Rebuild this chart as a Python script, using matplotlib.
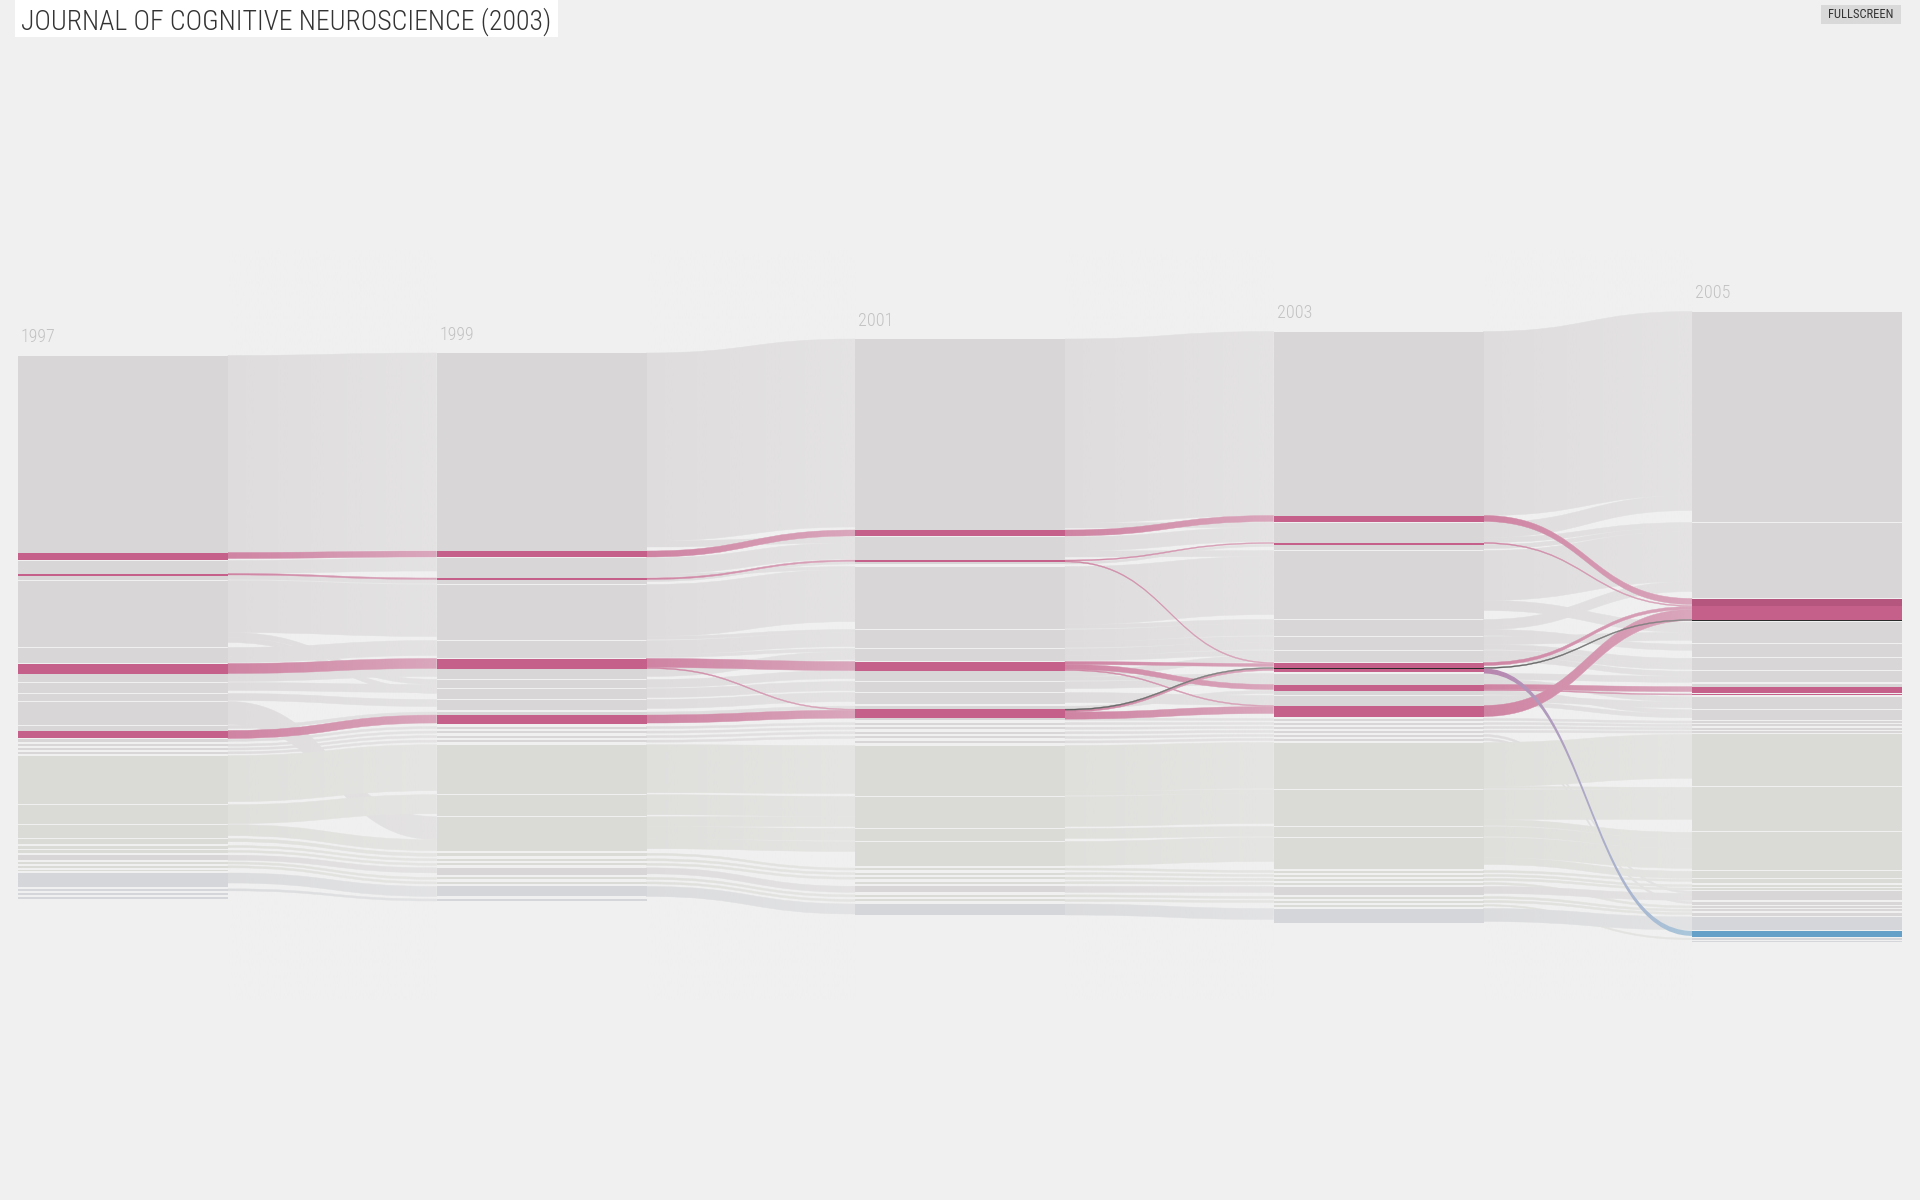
import numpy as np
import matplotlib.pyplot as plt
from matplotlib.path import Path
from matplotlib.patches import PathPatch, Rectangle
from matplotlib import font_manager

title = "JOURNAL OF COGNITIVE NEUROSCIENCE (2003)"
years = ["1997", "1999", "2001", "2003", "2005"]
col_height = [543, 548, 576, 591, 631]

# pieces of each column, top to bottom: (kind, size, joined to piece above)
seg_1997 = [("m", 197, 0), ("p", 7, 1), ("m", 13, 0), ("p", 2, 1), ("m", 4, 1), ("m", 66, 0),
            ("m", 15, 0), ("p", 10, 0), ("m", 8, 1), ("m", 10, 0), ("m", 7, 0), ("m", 23, 0),
            ("m", 5, 0), ("p", 7, 1), ("m", 3, 0), ("m", 2, 0), ("m", 2, 0), ("m", 2, 0),
            ("g", 48, 0), ("g", 19, 0), ("g", 13, 0), ("g", 5, 0), ("g", 3, 0), ("g", 3, 0),
            ("m", 5, 0), ("g", 2, 0), ("g", 2, 0), ("g", 1.5, 0), ("b", 14, 0), ("b", 2, 0),
            ("b", 2, 0), ("b", 2, 0)]
seg_1999 = [("m", 198, 0), ("p", 6, 1), ("m", 20, 0), ("p", 1.5, 1), ("m", 4, 1), ("m", 55, 0),
            ("m", 17, 0), ("p", 10, 0), ("m", 10, 1), ("m", 8, 0), ("m", 10, 0), ("m", 10, 0),
            ("m", 3, 0), ("p", 9, 1), ("m", 2, 0), ("m", 2, 0), ("m", 2, 0), ("m", 2, 0),
            ("g", 49, 0), ("g", 21, 0), ("g", 34, 0), ("g", 3, 0), ("g", 2, 0), ("g", 2, 0),
            ("m", 7, 0), ("g", 2, 0), ("g", 2, 0), ("b", 10, 0), ("b", 2, 0)]
seg_2001 = [("m", 191, 0), ("p", 6, 1), ("m", 23, 0), ("p", 2, 1), ("m", 2, 1), ("m", 62, 0),
            ("m", 18, 0), ("m", 12, 0), ("p", 9, 0), ("m", 10, 1), ("m", 10, 0), ("m", 11, 0),
            ("m", 3, 0), ("p", 9, 1), ("m", 2, 1), ("m", 2, 0), ("m", 2, 0), ("m", 2, 0),
            ("m", 2, 0), ("m", 2, 0), ("g", 50, 0), ("g", 31, 0), ("g", 12, 0), ("g", 24, 0),
            ("g", 2, 0), ("g", 2, 0), ("g", 2, 0), ("g", 2, 0), ("m", 6, 0), ("g", 2, 0),
            ("g", 2, 0), ("b", 11, 0)]
seg_2003 = [("m", 184, 0), ("p", 6, 1), ("m", 20, 0), ("p", 2, 1), ("m", 5, 1), ("m", 68, 0),
            ("m", 16, 0), ("m", 13, 0), ("m", 11, 0), ("p", 5, 0), ("k", 1, 1), ("p", 3, 1),
            ("m", 11, 0), ("p", 6, 1), ("m", 4, 1), ("m", 10, 0), ("p", 11, 1), ("m", 2, 0),
            ("m", 2, 0), ("m", 2, 0), ("m", 2, 0), ("m", 2, 0), ("m", 2, 0), ("g", 46, 0),
            ("g", 36, 0), ("g", 10, 0), ("g", 31, 0), ("g", 2, 0), ("g", 2, 0), ("g", 2, 0),
            ("g", 2, 0), ("m", 8, 0), ("g", 2, 0), ("g", 2, 0), ("g", 2, 0), ("b", 14, 0)]
seg_2005 = [("m", 210, 0), ("m", 75, 0), ("d", 7, 0), ("p", 14, 1), ("k", 1.5, 1), ("m", 21, 0),
            ("m", 13, 0), ("m", 12, 0), ("m", 11, 0), ("m", 3, 0), ("p", 6, 1), ("p", 1.5, 0),
            ("m", 12, 0), ("m", 10, 0), ("m", 2, 0), ("m", 2, 0), ("m", 2, 0), ("m", 2, 0),
            ("g", 52, 0), ("g", 44, 0), ("g", 38, 0), ("g", 7, 0), ("g", 4, 0), ("g", 2, 0),
            ("g", 2, 0), ("m", 9, 0), ("m", 3, 0), ("m", 2, 0), ("m", 2, 0), ("m", 3, 0),
            ("b", 13, 0), ("B", 6, 0), ("b", 1.5, 0), ("b", 1.5, 0)]

# flows between neighbouring columns: (source piece, target piece, size, kind)
flows_97_99 = [(0, 0, 197, "g"), (2, 2, 13, "g"), (4, 4, 4, "g"), (5, 5, 52, "g"), (5, 9, 5, "g"),
               (5, 10, 5, "g"), (6, 6, 15, "g"), (8, 8, 8, "g"), (9, 9, 8, "g"), (10, 11, 7, "g"),
               (11, 20, 23, "g"), (12, 12, 3, "g"), (14, 14, 2, "g"), (15, 15, 2, "g"),
               (16, 16, 2, "g"), (17, 17, 2, "g"), (18, 18, 46, "g"), (19, 19, 19, "g"),
               (20, 20, 11, "g"), (21, 21, 3, "g"), (22, 22, 2, "g"), (23, 23, 2, "g"),
               (24, 24, 5, "g"), (25, 25, 2, "g"), (26, 26, 2, "g"), (28, 27, 10, "g"),
               (29, 28, 2, "g"),
               (1, 1, 6, "p"), (3, 3, 1.5, "p"), (7, 7, 10, "p"), (13, 13, 8, "p")]
flows_99_01 = [(0, 0, 188, "g"), (0, 2, 6, "g"), (2, 2, 16, "g"), (2, 5, 3, "g"), (4, 4, 2, "g"),
               (5, 5, 52, "g"), (5, 6, 3, "g"), (6, 6, 14, "g"), (6, 7, 3, "g"), (8, 7, 8, "g"),
               (9, 9, 8, "g"), (10, 10, 9, "g"), (11, 11, 9, "g"), (12, 12, 3, "g"),
               (14, 15, 2, "g"), (15, 16, 2, "g"), (16, 17, 2, "g"), (17, 18, 2, "g"),
               (18, 20, 48, "g"), (19, 21, 20, "g"), (20, 21, 10, "g"), (20, 22, 12, "g"),
               (20, 23, 10, "g"), (21, 24, 2, "g"), (22, 25, 2, "g"), (23, 26, 2, "g"),
               (24, 28, 6, "g"), (25, 29, 2, "g"), (26, 30, 2, "g"), (27, 31, 10, "g"),
               (1, 1, 6, "p"), (3, 3, 1.5, "p"), (7, 8, 9, "p"), (7, 13, 1, "p"), (13, 13, 8, "p")]
flows_01_03 = [(0, 0, 184, "g"), (0, 2, 5, "g"), (2, 2, 14, "g"), (2, 5, 6, "g"), (4, 4, 2, "g"),
               (5, 5, 58, "g"), (5, 6, 4, "g"), (6, 6, 12, "g"), (6, 7, 6, "g"), (7, 7, 7, "g"),
               (7, 8, 5, "g"), (9, 8, 6, "g"), (9, 12, 4, "g"), (10, 12, 7, "g"),
               (11, 15, 10, "g"), (12, 14, 3, "g"), (14, 17, 2, "g"), (15, 18, 2, "g"),
               (16, 19, 2, "g"), (17, 20, 2, "g"), (18, 21, 2, "g"), (19, 22, 2, "g"),
               (20, 23, 46, "g"), (20, 24, 4, "g"), (21, 24, 30, "g"), (22, 25, 10, "g"),
               (23, 26, 24, "g"), (24, 27, 2, "g"), (25, 28, 2, "g"), (26, 29, 2, "g"),
               (27, 30, 2, "g"), (28, 31, 6, "g"), (29, 32, 2, "g"), (30, 33, 2, "g"),
               (31, 35, 11, "g"),
               (1, 1, 6, "p"), (3, 3, 1, "p"), (3, 9, 1, "p"), (8, 9, 3, "p"), (8, 13, 5, "p"),
               (8, 16, 1, "p"), (13, 16, 7, "p"), (13, 10, 1, "k"), (13, 11, 2, "p")]
flows_03_05 = [(0, 0, 184, "g"), (2, 0, 15, "g"), (2, 1, 5, "g"), (4, 1, 4, "g"), (5, 1, 50, "g"),
               (5, 5, 10, "g"), (6, 1, 10, "g"), (6, 6, 6, "g"), (7, 5, 8, "g"), (7, 7, 5, "g"),
               (8, 7, 6, "g"), (8, 8, 5, "g"), (12, 8, 6, "g"), (12, 12, 5, "g"),
               (14, 13, 4, "g"), (15, 12, 6, "g"), (15, 13, 4, "g"), (17, 14, 2, "g"),
               (18, 15, 2, "g"), (19, 16, 2, "g"), (20, 17, 2, "g"), (21, 25, 2, "g"),
               (22, 26, 2, "g"), (23, 18, 44, "g"), (23, 19, 2, "g"), (24, 19, 30, "g"),
               (24, 20, 6, "g"), (25, 20, 10, "g"), (26, 20, 20, "g"), (26, 21, 7, "g"),
               (27, 22, 2, "g"), (28, 23, 2, "g"), (29, 24, 2, "g"), (30, 27, 2, "g"),
               (31, 25, 7, "g"), (32, 28, 2, "g"), (33, 29, 2, "g"), (34, 32, 1.5, "g"),
               (35, 30, 13, "g"),
               (1, 2, 6, "p"), (3, 3, 1, "p"), (9, 3, 3, "p"), (10, 4, 1, "k"), (11, 31, 5, "v"),
               (13, 10, 5, "p"), (13, 11, 1, "p"), (16, 3, 11, "p")]

columns = [seg_1997, seg_1999, seg_2001, seg_2003, seg_2005]
flows = [flows_97_99, flows_99_01, flows_01_03, flows_03_05]

BG = "#f0f0f0"
colors = {"m": "#d9d6d7", "g": "#dadbd6", "b": "#d5d6d9", "p": "#c46089",
          "d": "#b5567f", "k": "#2a2a2a", "B": "#64a0c8"}


def pick_font(cands):
    fonts = font_manager.fontManager.ttflist
    for name, stretch in cands:
        for f in fonts:
            if f.name == name and (stretch is None or str(f.stretch) in stretch):
                return name, (stretch[0] if stretch else "normal")
    return "DejaVu Sans", "normal"


font, stretch = pick_font([("Roboto Condensed", None), ("Liberation Sans Narrow", None),
                           ("DejaVu Sans", ("condensed", "semi-condensed")),
                           ("Roboto", None)])
light = "light" if any(f.name == font and f.weight in (300, "light")
                       for f in font_manager.fontManager.ttflist) else "normal"

fig = plt.figure(figsize=(19.2, 12), dpi=100)
fig.patch.set_facecolor(BG)
ax = fig.add_axes([0, 0, 1, 1])
ax.set_xlim(0, 1920)
ax.set_ylim(1200, 0)
ax.axis("off")

center = 627
col_w = 210
col_x = [18 + i * 418.5 for i in range(len(years))]

# vertical placement: thin separators between big modules, the rest of the
# height shared among the gaps around the many tiny modules
tops = []
for segs, h in zip(columns, col_height):
    total = sum(s[1] for s in segs)
    small, normal = [], []
    for i in range(1, len(segs)):
        if segs[i][2]:
            continue
        (small if min(segs[i][1], segs[i - 1][1]) < 4 else normal).append(i)
    g0 = 1.0
    g1 = max(1.0, (h - total - g0 * len(normal)) / max(len(small), 1))
    y = center - h / 2
    ys = []
    for i, (kind, size, joined) in enumerate(segs):
        if i in normal:
            y += g0
        elif i in small:
            y += g1
        ys.append(y)
        y += size
    tops.append(ys)


def ribbon(xa, ya0, ya1, xb, yb0, yb1):
    xm = (xa + xb) / 2
    verts = [(xa, ya0), (xm, ya0), (xm, yb0), (xb, yb0), (xb, yb1),
             (xm, yb1), (xm, ya1), (xa, ya1), (xa, ya0)]
    codes = [Path.MOVETO, Path.CURVE4, Path.CURVE4, Path.CURVE4, Path.LINETO,
             Path.CURVE4, Path.CURVE4, Path.CURVE4, Path.CLOSEPOLY]
    return Path(verts, codes)


order = {"g": 0, "p": 1, "v": 2, "k": 3}
for k, fl in enumerate(flows):
    left = columns[k]
    xa, xb = col_x[k] + col_w, col_x[k + 1]
    out_off, in_off, pos = {}, {}, {}
    for n, f in sorted(enumerate(fl), key=lambda t: (t[1][0], t[1][1])):
        o = out_off.get(f[0], 0)
        pos[n] = [tops[k][f[0]] + o, 0]
        out_off[f[0]] = o + f[2]
    for n, f in sorted(enumerate(fl), key=lambda t: (t[1][1], t[1][0])):
        o = in_off.get(f[1], 0)
        pos[n][1] = tops[k + 1][f[1]] + o
        in_off[f[1]] = o + f[2]
    for n, f in sorted(enumerate(fl), key=lambda t: order[t[1][3]]):
        src, dst, size, kind = f
        ya, yb = pos[n]
        path = ribbon(xa, ya, ya + size, xb, yb, yb + size)
        if kind == "v":
            patch = PathPatch(path, facecolor="none", edgecolor="none", zorder=2)
            ax.add_patch(patch)
            c0 = np.array([0.66, 0.38, 0.60])
            c1 = np.array([0.39, 0.63, 0.78])
            t = np.linspace(0, 1, 256)[None, :, None]
            im = ax.imshow(c0 * (1 - t) + c1 * t, extent=[xa, xb, yb + size + 2, ya - 2],
                           aspect="auto", zorder=2.5, interpolation="bilinear")
            im.set_clip_path(patch)
            continue
        c = colors[left[src][0]] if kind == "g" else colors[kind]
        ax.add_patch(PathPatch(path, facecolor=c, edgecolor=c, lw=0.3, zorder=2))
    # flows fade towards the next column
    fade = np.zeros((1, 256, 4))
    fade[..., :3] = 240 / 255
    fade[..., 3] = np.linspace(0.25, 0.5, 256)
    ax.imshow(fade, extent=[xa, xb, 1000, 250], aspect="auto", zorder=3,
              interpolation="bilinear")

# column blocks and year labels
for k, segs in enumerate(columns):
    for (kind, size, joined), y in zip(segs, tops[k]):
        ax.add_patch(Rectangle((col_x[k], y), col_w, size, facecolor=colors[kind],
                               edgecolor="none", zorder=4))
    ax.text(col_x[k] + 3, tops[k][0] - 13, years[k], fontsize=13, family=font,
            fontstretch=stretch, fontweight=light, color="#c2c2c2", va="baseline",
            ha="left", zorder=5)

# title box
ax.add_patch(Rectangle((15, 0), 543, 37, facecolor="white", edgecolor="none", zorder=5))
tt = ax.text(21, 30, title, fontsize=20, family=font, fontstretch=stretch, fontweight=light,
             color="#333333", va="baseline", ha="left", zorder=6)
fig.canvas.draw()
w = tt.get_window_extent().width
tt.set_fontsize(min(21, 20 * 530 / w))

# fullscreen button
ax.add_patch(Rectangle((1821, 5), 80, 19, facecolor="#d9d9d9", edgecolor="none", zorder=5))
ax.text(1861, 15, "FULLSCREEN", fontsize=9, family=font, fontstretch=stretch,
        color="#333333", ha="center", va="center", zorder=6)

fig.savefig("out.png", dpi=100, facecolor=BG)
